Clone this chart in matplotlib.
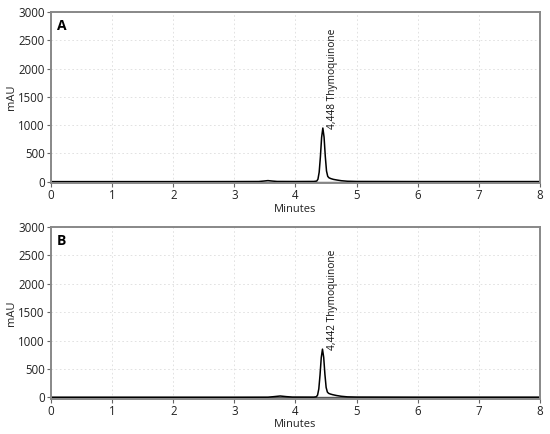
import matplotlib
matplotlib.use("Agg")
import matplotlib.pyplot as plt

plt.rcParams['font.family'] = ['Open Sans', 'DejaVu Sans']

# Chromatogram A
time_a = [0, 1.0, 2.0, 3.0, 3.40, 3.48, 3.55, 3.62, 3.70, 4.0, 4.30, 4.348, 4.368, 4.388,
          4.408, 4.428, 4.448, 4.468, 4.488, 4.508, 4.528, 4.548, 4.58, 4.62, 4.68, 4.75,
          4.85, 5.0, 6.0, 7.0, 8.0]
mau_a = [2, 2, 2, 3, 4, 12, 20, 12, 5, 4, 5, 12, 45, 168, 440, 785, 950, 790, 450, 190,
         95, 70, 55, 42, 30, 18, 9, 5, 3, 3, 3]

# Chromatogram B
time_b = [0, 1.0, 2.0, 3.0, 3.55, 3.65, 3.75, 3.85, 3.95, 4.30, 4.342, 4.362, 4.382, 4.402,
          4.422, 4.442, 4.462, 4.482, 4.502, 4.522, 4.542, 4.57, 4.61, 4.67, 4.75, 4.85,
          5.0, 6.0, 7.0, 8.0]
mau_b = [3, 3, 3, 3, 4, 14, 25, 14, 6, 5, 12, 42, 150, 395, 700, 850, 705, 405, 175, 95,
         72, 60, 48, 34, 20, 10, 6, 4, 4, 4]

peak_labels = ["4,448 Thymoquinone", "4,442 Thymoquinone"]
peak_times = [4.448, 4.442]
peak_heights = [950, 850]
panel_names = ["A", "B"]
x_ticks = [0, 1, 2, 3, 4, 5, 6, 7, 8]
y_ticks = [0, 500, 1000, 1500, 2000, 2500, 3000]

fig = plt.figure(figsize=(5.5, 4.34), dpi=100)
ax_a = fig.add_axes([0.0927, 0.578, 0.889, 0.394])
ax_b = fig.add_axes([0.0927, 0.081, 0.889, 0.396])

for ax, t, v, lab, pt, ph, name in zip([ax_a, ax_b], [time_a, time_b], [mau_a, mau_b],
                                       peak_labels, peak_times, peak_heights, panel_names):
    ax.plot(t, v, color='black', lw=1.1)
    ax.axhline(0, color='#555555', lw=1.0, zorder=1)
    ax.set_xlim(0, 8)
    ax.set_ylim(-25, 3000)
    ax.set_xticks(x_ticks)
    ax.set_yticks(y_ticks)
    ax.grid(True, color='#dddddd', lw=0.6, ls=(0, (2, 3)))
    ax.set_axisbelow(True)
    for s in ax.spines.values():
        s.set_color('#888888')
        s.set_linewidth(1.4)
    ax.tick_params(labelsize=8.3, length=3, width=0.8, color='#666666', pad=1.5,
                   labelcolor='#222222')
    ax.set_xlabel('Minutes', fontsize=8, labelpad=1, color='#222222')
    ax.set_ylabel('mAU', fontsize=8, labelpad=1, color='#222222')
    ax.text(0.012, 0.96, name, transform=ax.transAxes, fontsize=10, fontweight='bold',
            va='top', ha='left')
    ax.text(pt + 0.16, ph - 10, lab, rotation=90, fontsize=7.3, ha='center', va='bottom',
            color='#111111')

fig.savefig('out.png', dpi=100)
